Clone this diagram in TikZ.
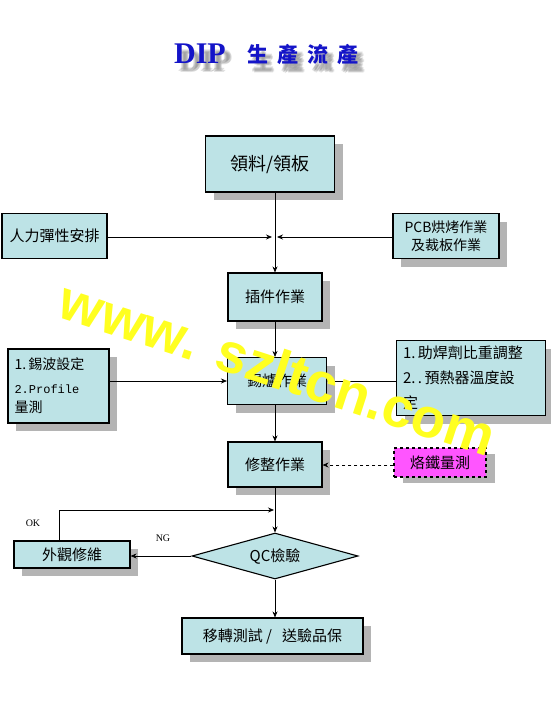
\documentclass[tikz,border=0pt]{standalone}
\usepackage{fontspec}
\setmainfont{Liberation Serif}
\newfontfamily\cjk{Noto Sans CJK TC}
\newfontfamily\monof{Liberation Mono}
\newfontfamily\wmf{Liberation Sans}
\usetikzlibrary{shapes.geometric,shadows,arrows.meta}
\definecolor{boxc}{HTML}{BDE3E6}
\definecolor{shadowc}{HTML}{B4B4B4}
\definecolor{titleblue}{HTML}{1414C8}
\definecolor{magc}{HTML}{FF55FF}
\definecolor{wmc}{HTML}{FFFF20}
\begin{document}
\begin{tikzpicture}[x=1pt,y=-1pt,
 box/.style={draw=black, line width=1.1pt, fill=boxc, inner sep=0pt, align=center,
   font=\cjk\fontsize{15}{19}\selectfont},
 shad/.style={drop shadow={shadow xshift=8pt, shadow yshift=-8pt, fill=shadowc, opacity=1}},
 conn/.style={line width=0.8pt, -{Stealth[length=6pt,width=5pt]}},
 lbl/.style={font=\fontsize{10}{12}\selectfont, inner sep=0pt},
 ttl/.style={inner sep=0pt, font=\bfseries\fontsize{30}{32}\selectfont},
 ttlc/.style={inner sep=0pt, font=\cjk\bfseries\fontsize{21}{24}\selectfont},
 ]
\useasboundingbox (0,0) rectangle (550,726);
\fill[white] (0,0) rectangle (550,726);

% title shadow
\foreach \dx/\dy in {5/7,7/8,6/9,4/8,6/6} {
  \node[ttl, text=gray, opacity=0.22] at (200+\dx,54+\dy) {DIP};
  \node[ttlc, text=gray, opacity=0.22] at (303+\dx,55+\dy) {生\hspace{9pt}產\hspace{9pt}流\hspace{9pt}產};
}
\node[ttl, text=titleblue] (t1) at (200,54) {DIP};
\node[ttlc, text=titleblue] (t2) at (303,55) {生\hspace{9pt}產\hspace{9pt}流\hspace{9pt}產};

% boxes
\node[box, shad, minimum width=129pt, minimum height=56pt, font=\cjk\fontsize{18}{20}\selectfont] (lingliao) at (270,164) {領料/領板};
\node[box, minimum width=105pt, minimum height=45pt] (renli) at (54.5,236) {人力彈性安排};
\node[box, shad, minimum width=106pt, minimum height=45pt, font=\cjk\fontsize{14}{18}\selectfont] (pcb) at (446,236) {PCB烘烤作業\\及裁板作業};
\node[box, shad, minimum width=94pt, minimum height=48pt] (chajian) at (275,297) {插件作業};
\node[box, shad, minimum width=101pt, minimum height=74pt, text width=88pt, align=left, font=\cjk\fontsize{14}{19}\selectfont] (xibo) at (58.5,386) {1.\,錫波設定\\[5pt]{\monof\fontsize{12}{19}\selectfont 2.Profile}\\量測};
\node[box, shad, minimum width=99pt, minimum height=47pt] (xilu) at (277,381) {錫爐作業};
\node[box, shad, minimum width=149pt, minimum height=75pt, text width=136pt, align=left, font=\cjk\fontsize{15}{25}\selectfont] (zhuhan) at (471,378) {1.\,助焊劑比重調整\\2.\,.\,預熱器溫度設\\定};
\node[box, shad, minimum width=94pt, minimum height=45pt] (xiuzheng) at (275,464.5) {修整作業};
\node[box, dashed, fill=magc, minimum width=92pt, minimum height=29pt,
  drop shadow={shadow xshift=9pt, shadow yshift=-6pt, fill=shadowc, opacity=1}] (laotie) at (440,462.5) {烙鐵量測};
\node[box, shad, minimum width=116pt, minimum height=27pt] (waiguan) at (72,554.5) {外觀修維};
\node[box, shape=diamond, aspect=3.6, minimum width=166pt, minimum height=46pt] (qc) at (275,556) {QC檢驗};
\node[box, shad, minimum width=181pt, minimum height=36pt] (yizhuan) at (272.5,636) {移轉測試\ /\ \ \ 送驗品保};

% connectors
\coordinate (jl) at (272,237);
\coordinate (jr) at (277,237);
\coordinate (okc) at (274,510);
\coordinate (oks) at (59,541);
\draw[conn] (lingliao.south -| chajian.north) -- (chajian.north);
\draw[conn] (renli.east |- jl) -- (jl);
\draw[conn] (pcb.west |- jr) -- (jr);
\draw[conn] (chajian.south) -- (chajian.south |- xilu.north);
\draw[conn] (xibo.east |- xilu.west) -- (xilu.west);
\draw[conn] (zhuhan.west |- xilu.east) -- (xilu.east);
\draw[conn] (xiuzheng.north |- xilu.south) -- (xiuzheng.north);
\draw[conn, dashed] (laotie.west |- 0,465) -- (xiuzheng.east |- 0,465);
\draw[conn] (xiuzheng.south) -- (qc.north);
\draw[conn] (oks) |- (okc);
\draw[conn] (qc.west) -- (qc.west -| waiguan.east);
\draw[conn] (qc.south) -- (qc.south |- yizhuan.north);
\node[lbl] (ok) at (33,523) {OK};
\node[lbl] (ng) at (163,538) {NG};

% watermark
\node[rotate=-18, text=wmc, inner sep=0pt, font=\wmf\bfseries\fontsize{56}{60}\selectfont] (wm) at (278,368) {www. szltcn.com};
\end{tikzpicture}
\end{document}
